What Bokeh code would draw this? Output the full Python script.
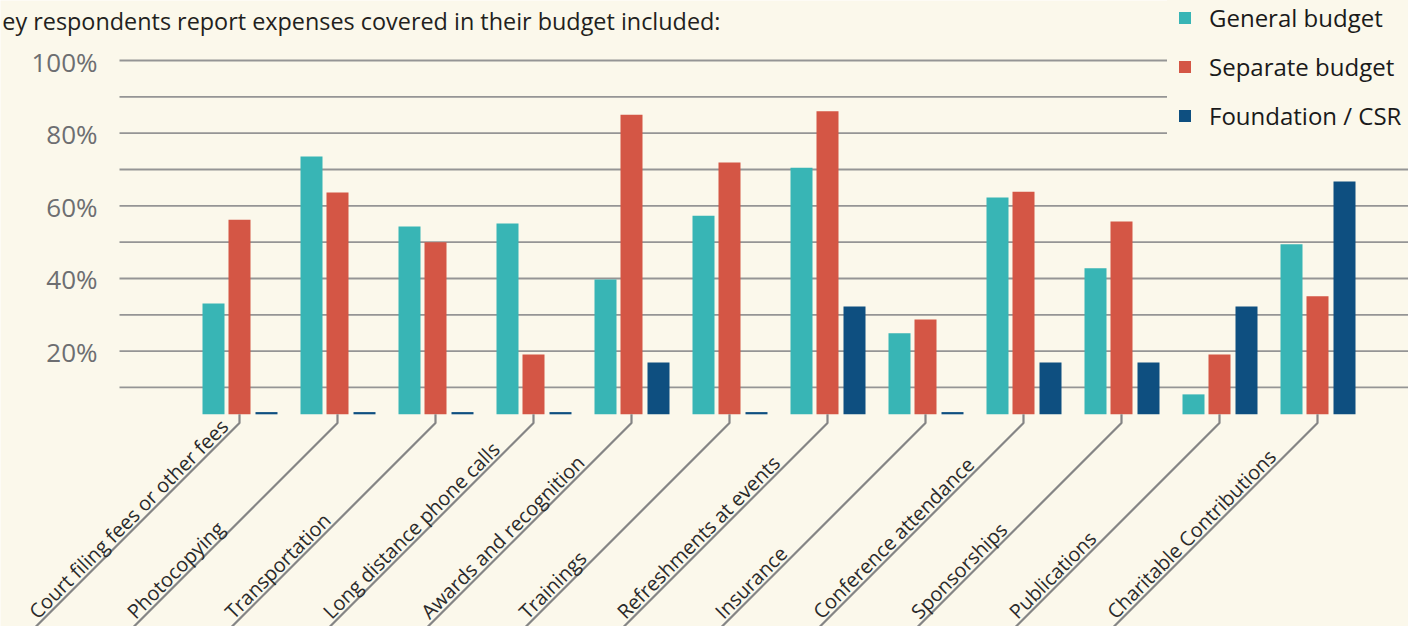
import numpy as np
from bokeh.plotting import figure
from bokeh.models import Range1d, ColumnDataSource, Legend, LegendItem
from bokeh.core.properties import value
from bokeh.embed import file_html
from bokeh.resources import INLINE

# ---------------- data ----------------
title_text = "ey respondents report expenses covered in their budget included:"
categories = [
    "Court filing fees or other fees", "Photocopying", "Transportation",
    "Long distance phone calls", "Awards and recognition", "Trainings",
    "Refreshments at events", "Insurance", "Conference attendance",
    "Sponsorships", "Publications", "Charitable Contributions",
]
series_names = ["General budget", "Separate budget", "Foundation / CSR"]
general_budget = [33.1, 73.6, 54.3, 55.1, 39.7, 57.3, 70.5, 24.9, 62.3, 42.8, 8.1, 49.4]
separate_budget = [56.2, 63.7, 50.0, 19.1, 85.1, 71.9, 86.0, 28.7, 63.9, 55.7, 19.1, 35.1]
foundation_csr = [0, 0, 0, 0, 16.9, 0, 32.3, 0, 16.9, 16.9, 32.3, 66.7]
tick_values = [20, 40, 60, 80, 100]
tick_labels = ["20%", "40%", "60%", "80%", "100%"]
grid_values = [10, 20, 30, 40, 50, 60, 70, 80, 90, 100]

# ---------------- style / layout ----------------
BG = "#FBF8EB"
COLORS = ["#38B5B5", "#D45645", "#0E4F80"]
FONT = "Open Sans"
W, H = 1408, 626
GROUP_PX = 98.0      # pixels between category groups
GROUP0_X = 239.0     # x of first group centre
Y_PX = 3.633         # pixels per percentage point
ZERO_Y = 423.3       # y of 0%


def dx(px):
    return (px - GROUP0_X) / GROUP_PX


def dy(py):
    return (ZERO_Y - py) / Y_PX


p = figure(width=W, height=H, output_backend="svg", toolbar_location=None,
           x_range=Range1d(dx(0), dx(W)),
           y_range=Range1d(dy(H), dy(0)),
           x_axis_location=None, y_axis_location=None, min_border=0)
p.grid.visible = False
p.outline_line_color = None
p.background_fill_color = BG
p.border_fill_color = BG

# gridlines
p.segment(x0=dx(119), x1=dx(W + 20), y0=grid_values, y1=grid_values,
          line_color="#959595", line_width=1.8)

# y tick labels
p.text(x=dx(97), y=[t - 1.0 / Y_PX for t in tick_values], text=tick_labels,
       text_font=value(FONT), text_font_size="26px", text_color="#6D6E71",
       text_align="right", text_baseline="middle")

# title (as much of it as the reference shows)
p.text(x=[dx(720)], y=[dy(20)], text=[title_text], text_font=value(FONT),
       text_font_size="23.4px", text_color="#231F20", text_align="right",
       text_baseline="middle")

# bars
n = len(categories)
idx = np.arange(n)
base = dy(413.8)
offsets_px = [-26, 0, 27]
bar_w = 22 / GROUP_PX
stub = 2.2 / Y_PX
renderers = []
for name, vals, off, col in zip(series_names,
                                [general_budget, separate_budget, foundation_csr],
                                offsets_px, COLORS):
    v = np.array(vals, dtype=float)
    top = np.where(v > 0, v, base + stub)
    src = ColumnDataSource(dict(x=idx + off / GROUP_PX, top=top, value=v, cat=categories))
    r = p.vbar(x="x", top="top", bottom=base, width=bar_w, source=src,
               fill_color=col, line_color=None)
    renderers.append(r)

# leader lines (vertical stub then 45 degree run down-left)
elbow_ref = 422.5
elbow = dy(elbow_ref)
run = 240
xs = [[i, i, i - run / GROUP_PX] for i in idx]
ys = [[base, elbow, elbow - run / Y_PX] for i in idx]
p.multi_line(xs, ys, line_color="#858585", line_width=2.2)

# category labels along the leader lines (text centre sits above the line)
lab_y_ref = 622.0
shift = 7.6
lx = [i - ((lab_y_ref - elbow_ref) + shift) / GROUP_PX for i in idx]
ly = [dy(lab_y_ref - shift) for i in idx]
p.text(x=lx, y=ly, text=categories, angle=np.pi / 4, text_font=value(FONT),
       text_font_size="20px", text_color="#2A2A2A", text_align="left",
       text_baseline="middle")

# legend
legend = Legend(items=[LegendItem(label=nm, renderers=[r]) for nm, r in zip(series_names, renderers)],
                location=(1167, H - 142), glyph_width=15, glyph_height=15,
                label_standoff=17, padding=10, spacing=16, margin=0,
                label_height=32, label_text_font=FONT, label_text_font_size="24px",
                label_text_color="#1A1A1A", background_fill_color=BG,
                background_fill_alpha=1.0, border_line_alpha=0)
p.add_layout(legend)

open("out.html", "w").write(file_html(p, INLINE, title="Budget expenses"))
